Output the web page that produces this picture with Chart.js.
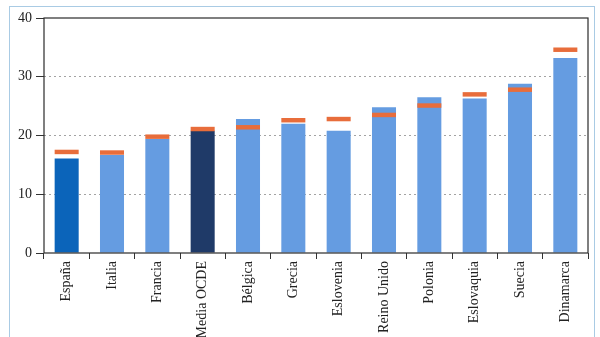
<!DOCTYPE html>
<html><head><meta charset="utf-8">
<script src="https://cdn.jsdelivr.net/npm/chart.js@4"></script>
<style>
html,body{margin:0;padding:0;background:#fff;overflow:hidden;width:600px;height:337px;}
#frame{position:absolute;left:9px;top:6px;width:586px;height:340px;border:1.5px solid #a9cbe4;box-sizing:border-box;}
#wrap{position:absolute;left:0;top:0;width:600px;height:337px;}
</style></head>
<body>
<div id="frame"></div>
<div id="wrap"><canvas id="c" width="600" height="337"></canvas></div>
<script>
const categories = ['España','Italia','Francia','Media OCDE','Bélgica','Grecia','Eslovenia','Reino Unido','Polonia','Eslovaquia','Suecia','Dinamarca'];
const barValues = [16.1, 16.7, 19.4, 20.8, 22.8, 22.0, 20.8, 24.8, 26.5, 26.3, 28.8, 33.2];
const markerValues = [17.2, 17.1, 19.8, 21.1, 21.4, 22.6, 22.8, 23.5, 25.1, 27.0, 27.8, 34.6];
const yTicks = [0, 10, 20, 30, 40];

const barColors = categories.map(c => c === 'España' ? '#0b64ba' : (c === 'Media OCDE' ? '#1f3a68' : '#659ce1'));
const half = 0.38;
const markerData = markerValues.map(v => [v - half, v + half]);

const framePlugin = {
  id: 'frame',
  afterDraw(chart) {
    const a = chart.chartArea, ctx = chart.ctx;
    ctx.save();
    ctx.strokeStyle = '#2b2b2b';
    ctx.lineWidth = 1.2;
    ctx.strokeRect(a.left, a.top, a.right - a.left, a.bottom - a.top);
    ctx.restore();
  }
};

new Chart(document.getElementById('c'), {
  type: 'bar',
  data: {
    labels: categories,
    datasets: [
      { data: markerData, backgroundColor: '#e86d3b', grouped: false, order: 0,
        barPercentage: 0.53, categoryPercentage: 1 },
      { data: barValues, backgroundColor: barColors, grouped: false, order: 1,
        barPercentage: 0.53, categoryPercentage: 1 }
    ]
  },
  options: {
    responsive: false,
    animation: false,
    events: [],
    layout: { padding: { top: 18, right: 12, left: 0, bottom: 0 } },
    plugins: { legend: { display: false }, tooltip: { enabled: false } },
    scales: {
      x: {
        afterFit(s) { s.height = 84; },
        grid: { offset: true, drawOnChartArea: false, drawTicks: true, tickLength: 6, tickColor: '#333', color: '#333' },
        border: { display: false },
        ticks: { minRotation: 90, maxRotation: 90, autoSkip: false, padding: 2, color: '#222',
          font: { family: 'Liberation Serif', size: 14 } }
      },
      y: {
        min: 0, max: 40,
        afterFit(s) { s.width = 44; },
        afterBuildTicks(s) { s.ticks = yTicks.map(v => ({ value: v })); },
        grid: {
          color: c => (c.tick && (c.tick.value === 0 || c.tick.value === 40)) ? 'rgba(0,0,0,0)' : '#a3a3a3',
          lineWidth: 1, tickColor: '#333', tickLength: 8, tickWidth: 1
        },
        border: { display: false, dash: [2, 3] },
        ticks: { padding: 4, color: '#222', font: { family: 'Liberation Serif', size: 14 } }
      }
    }
  },
  plugins: [framePlugin]
});
</script>
</body></html>
